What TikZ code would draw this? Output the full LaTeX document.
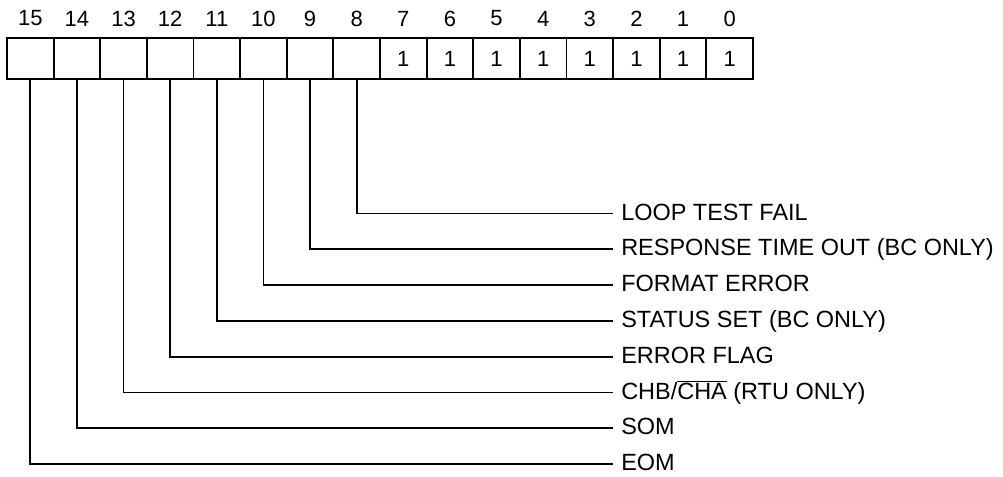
\documentclass[tikz,border=0pt]{standalone}
\usepackage{fontspec}
\setmainfont{Liberation Sans}
\begin{document}
\begin{tikzpicture}[x=0.75pt,y=-0.75pt,
  cell/.style={draw=black,line width=1.4pt,minimum width=34.97pt,minimum height=30.75pt,inner sep=0pt,
    font=\fontsize{16.5pt}{18pt}\selectfont},
  bitnum/.style={inner sep=0pt,font=\fontsize{16.5pt}{18pt}\selectfont},
  lab/.style={anchor=west,inner xsep=6pt,inner ysep=0pt,text height=12.6pt,text depth=2.6pt,
    font=\fontsize{17.6pt}{20pt}\selectfont},
  wire/.style={line width=1.3pt}]
\useasboundingbox (0,0) rectangle (1003,476);
% register cells and bit numbers
\foreach \b in {15,14,...,0}{
  \node[cell] (c\b) at ({7+(15-\b+0.5)*46.625},58.5) {\ifnum\b<8 1\fi};
  \node[bitnum] (n\b) at ({7+(15-\b+0.5)*46.625},18.5) {\b};
}
% labels
\node[lab] (l8)  at (613,213.5) {LOOP TEST FAIL};
\node[lab] (l9)  at (613,249.3) {RESPONSE TIME OUT (BC ONLY)};
\node[lab] (l10) at (613,285.1) {FORMAT ERROR};
\node[lab] (l11) at (613,320.9) {STATUS SET (BC ONLY)};
\node[lab] (l12) at (613,356.7) {ERROR FLAG};
\node[lab] (l13) at (613,392.5) {CHB/$\overline{\mbox{CHA}}$ (RTU ONLY)};
\node[lab] (l14) at (613,428.3) {SOM};
\node[lab] (l15) at (613,464.1) {EOM};
% connectors
\foreach \b in {8,...,15}{
  \draw[wire] (c\b.south) |- (l\b.west);
}
\end{tikzpicture}
\end{document}
